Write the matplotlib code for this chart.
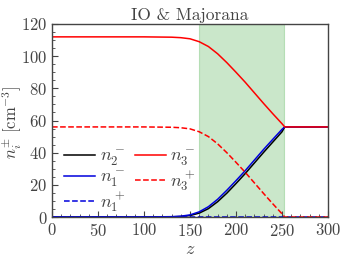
import matplotlib
matplotlib.use("Agg")
import matplotlib.pyplot as plt
from matplotlib.ticker import MultipleLocator

plt.rcParams['font.family'] = 'serif'
plt.rcParams['font.serif'] = ['cmr10']
plt.rcParams['mathtext.fontset'] = 'cm'
plt.rcParams['axes.formatter.use_mathtext'] = True

z = [0, 50, 100, 130, 140, 150, 160, 170, 180, 190, 200, 210, 220, 230, 240, 250, 253, 260, 300]
n3m = [112, 112, 112, 111.8, 111.5, 110.8, 109.0, 106.0, 101.5, 96.0, 90.0, 83.8, 77.2, 70.6, 64.2, 58.0, 56.0, 56.0, 56.0]
n3p = [56, 56, 56, 55.8, 55.5, 54.8, 53.0, 50.0, 45.5, 40.0, 34.0, 27.8, 21.2, 14.6, 8.2, 2.0, 0.0, 0.0, 0.0]
n1m = [0, 0, 0, 0.2, 0.5, 1.3, 3.2, 6.4, 11.0, 16.6, 22.6, 28.8, 35.4, 42.0, 48.3, 54.5, 56.0, 56.0, 56.0]
n2m = [0, 0, 0, 0.1, 0.3, 0.9, 2.4, 5.2, 9.5, 14.8, 20.8, 27.0, 33.6, 40.2, 46.6, 53.0, 56.0, 56.0, 56.0]
n1p = [0] * len(z)
span = (160, 252)

fig = plt.figure(figsize=(3.46, 2.59), dpi=100)
ax = fig.add_axes([52/346, 1 - 217/259, 276/346, 193/259])
gray = '#444444'

ax.axvspan(span[0], span[1], color='#2ca02c', alpha=0.25, lw=0.8)
l2m, = ax.plot(z, n2m, color='black', lw=1.1, label=r'$n_2^-$')
l1m, = ax.plot(z, n1m, color='#0000dd', lw=1.1, label=r'$n_1^-$')
l1p, = ax.plot(z, n1p, color='#0000dd', lw=1.1, ls='--', label=r'$n_1^+$')
l3m, = ax.plot(z, n3m, color='red', lw=1.1, label=r'$n_3^-$')
l3p, = ax.plot(z, n3p, color='red', lw=1.1, ls='--', label=r'$n_3^+$')

ax.set_xlim(0, 300)
ax.set_ylim(0, 120)
ax.xaxis.set_major_locator(MultipleLocator(50))
ax.xaxis.set_minor_locator(MultipleLocator(10))
ax.yaxis.set_major_locator(MultipleLocator(20))
ax.yaxis.set_minor_locator(MultipleLocator(5))
ax.tick_params(which='both', direction='in', colors=gray, labelsize=12, labelcolor=gray)
ax.tick_params(which='major', length=4, width=0.8)
ax.tick_params(which='minor', length=2, width=0.6)
for s in ax.spines.values():
    s.set_color(gray)
    s.set_linewidth(1.0)

ax.set_xlabel(r'$z$', fontsize=13, color=gray, labelpad=2)
ax.set_ylabel(r'$n_i^{\pm}\ [\mathrm{cm}^{-3}]$', fontsize=12, color=gray)
ax.yaxis.set_label_coords(-0.1, 0.49)
ax.set_title('IO & Majorana', fontsize=12.5, color=gray, pad=3)

leg = ax.legend(handles=[l2m, l1m, l1p, l3m, l3p], ncol=2, frameon=False,
                loc='lower left', bbox_to_anchor=(0.045, 0.015), fontsize=13,
                handlelength=1.7, columnspacing=0.55, labelspacing=0.08, handletextpad=0.25,
                borderaxespad=0.0, borderpad=0.0)
for t in leg.get_texts():
    t.set_color(gray)

fig.savefig('out.png', dpi=100)
